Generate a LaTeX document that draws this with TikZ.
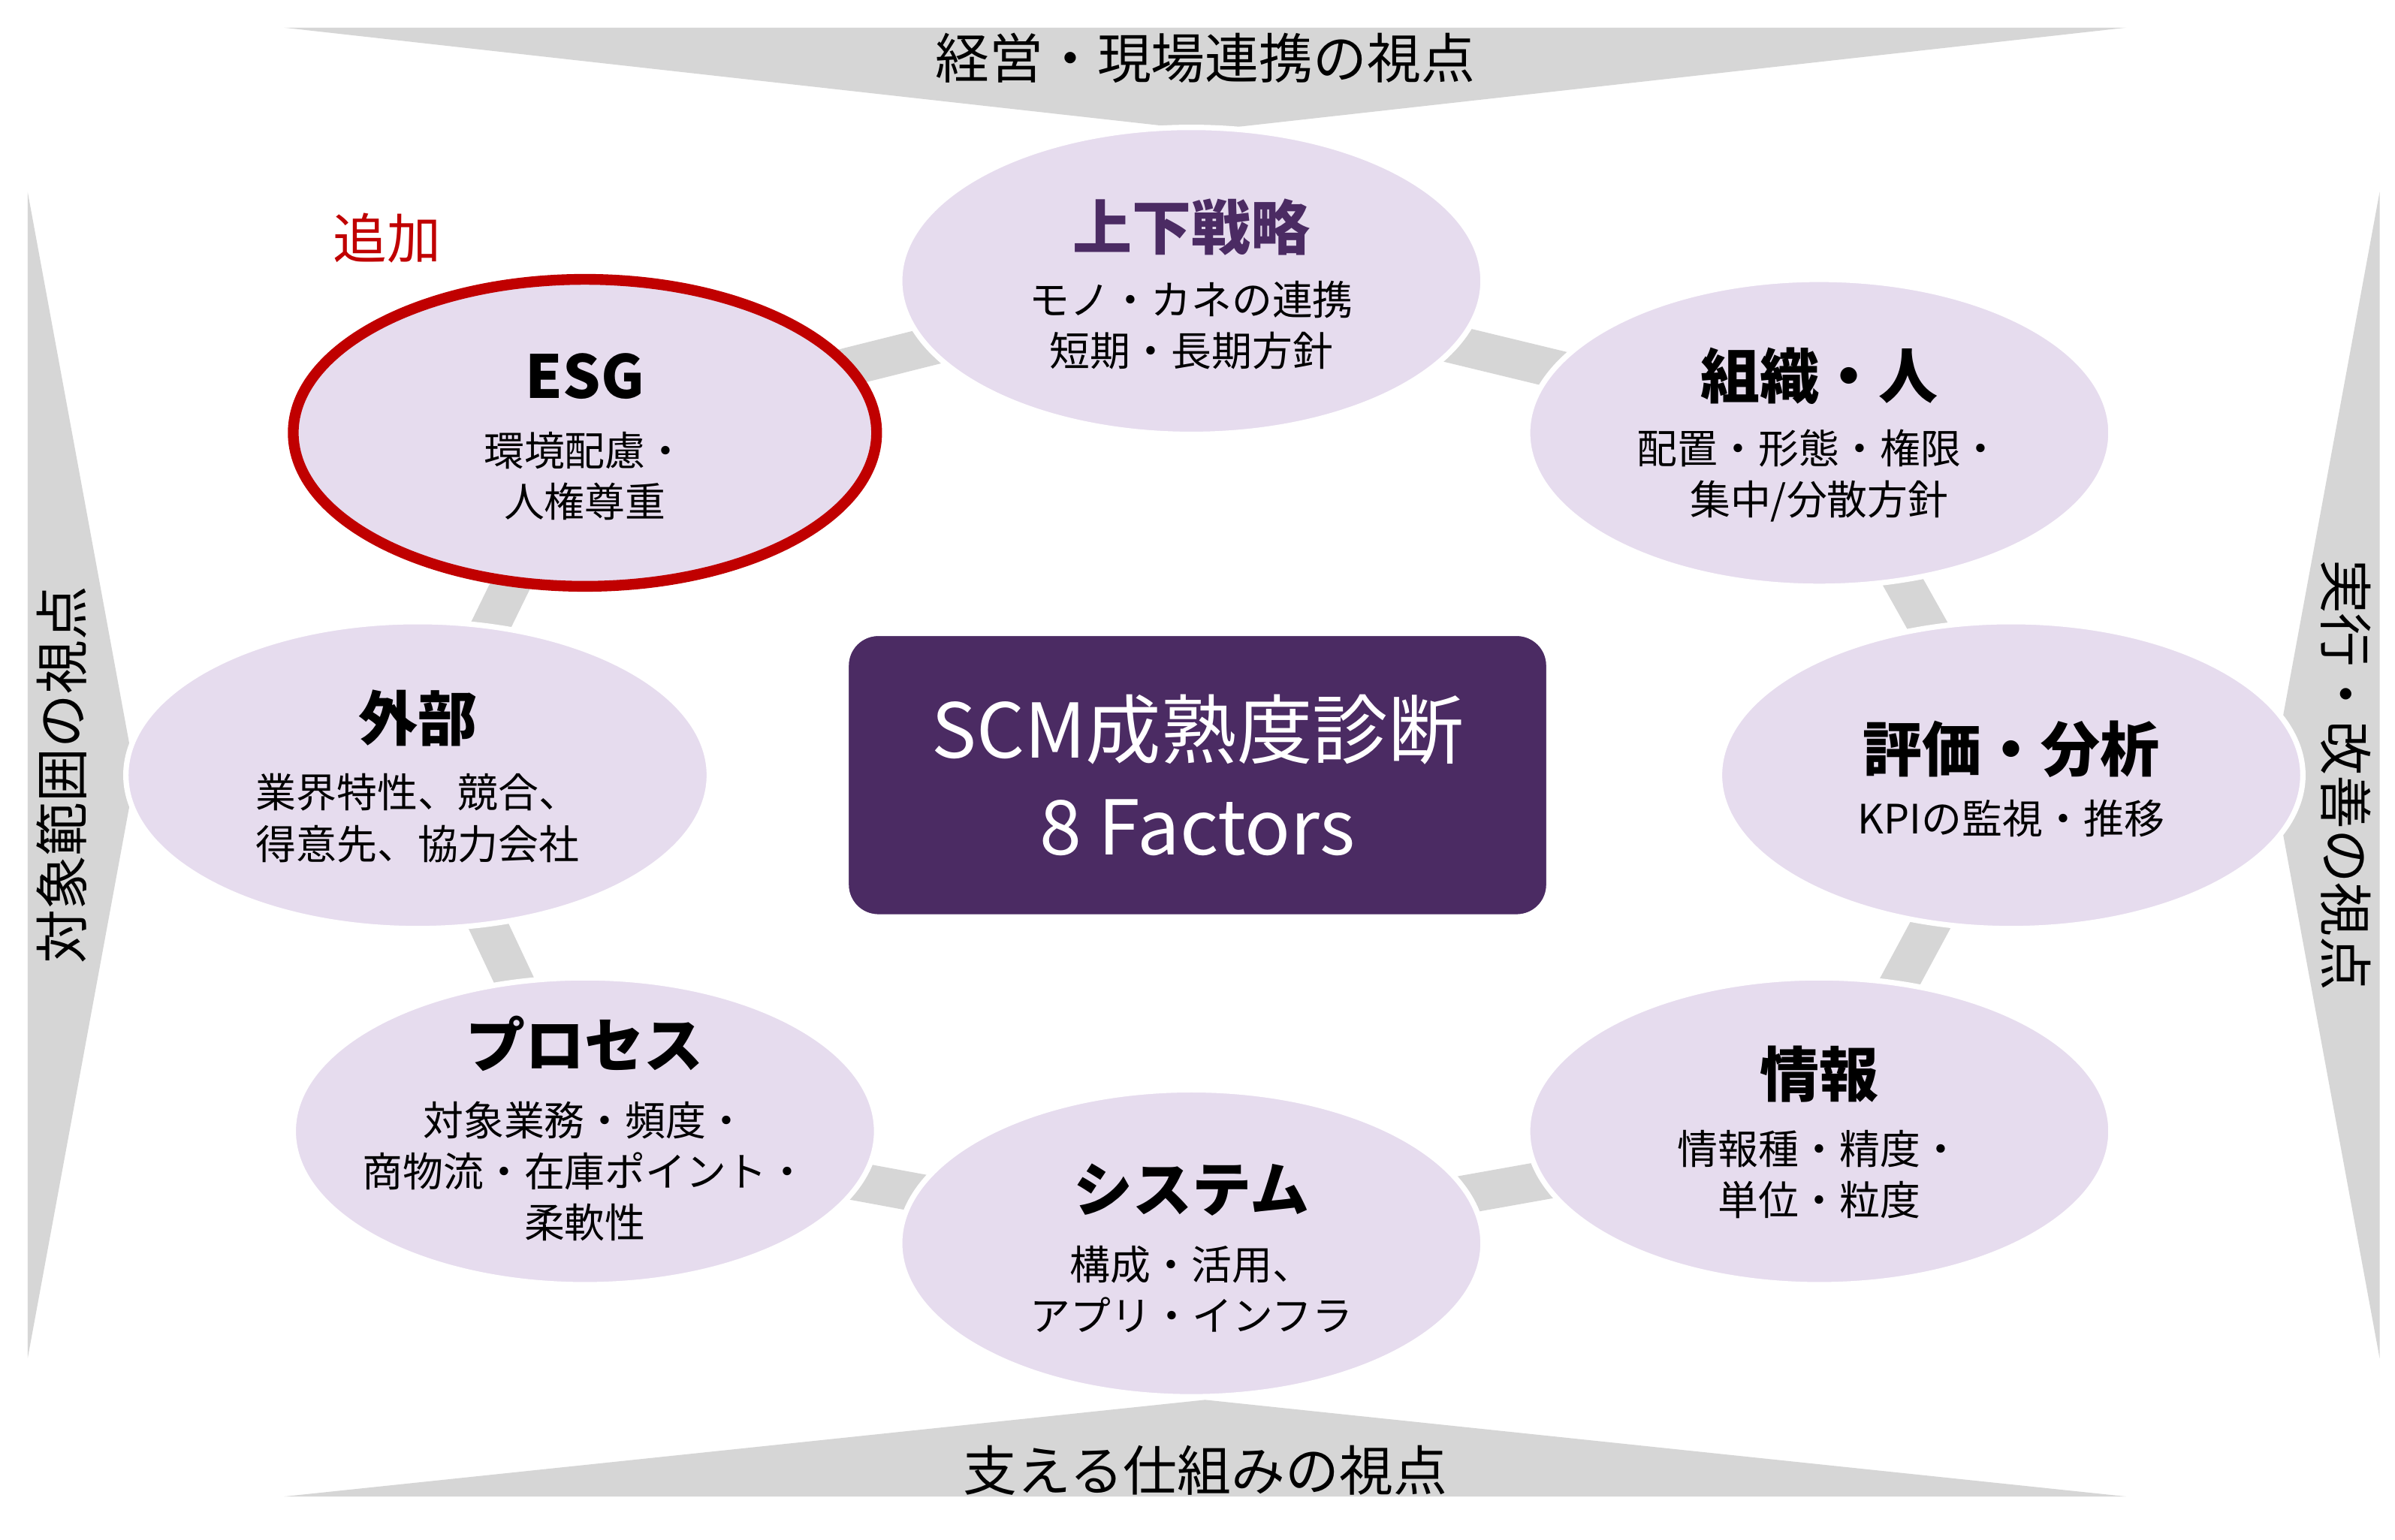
\documentclass[tikz,border=0pt]{standalone}
\usepackage{fontspec}
\setmainfont{Noto Sans CJK JP}
\usetikzlibrary{shapes.geometric}
\begin{document}
\begin{tikzpicture}[x=0.02cm,y=-0.02cm,
 band/.style={fill=black!16,draw=none},
 bandtext/.style={font=\fontsize{20}{24}\selectfont},
 factor/.style={ellipse,fill=lavender,draw=white,line width=2pt,minimum width=380*0.02cm,minimum height=200*0.02cm,align=center,inner sep=0pt},
 ttl/.style={font=\fontsize{22}{26}\selectfont\bfseries},
 sub/.style={font=\fontsize{15}{19}\selectfont}]
\definecolor{lavender}{HTML}{E6DCEE}
\definecolor{centerpurple}{HTML}{4B2B63}
\definecolor{esgred}{HTML}{C00000}
\useasboundingbox (0,0) rectangle (1560,1003);
\fill[white] (0,0) rectangle (1560,1003);
% bands
\fill[band] (185,18) -- (1385,18) -- (785,85) -- cycle;
\fill[band] (185,975) -- (1385,975) -- (785,912) -- cycle;
\fill[band] (18,125) -- (18,885) -- (88,505) -- cycle;
\fill[band] (1550,125) -- (1550,885) -- (1480,505) -- cycle;
\node[bandtext] (tt) at (785,38) {経営・現場連携の視点};
\node[bandtext] (bt) at (785,958) {支える仕組みの視点};
\node[bandtext,rotate=90] (lt) at (40,505) {対象範囲の視点};
\node[bandtext,rotate=-90] (rt) at (1528,505) {実行・改善の視点};
% ring
\coordinate (c1) at (776,183);
\coordinate (c2) at (1185,282);
\coordinate (c3) at (1310,505);
\coordinate (c4) at (1185,737);
\coordinate (c5) at (776,810);
\coordinate (c6) at (381,737);
\coordinate (c7) at (272,505);
\coordinate (c8) at (381,282);
\draw[black!16,line width=0.5cm] (c1)--(c2)--(c3)--(c4)--(c5)--(c6)--(c7)--(c8)--cycle;
% ellipses
\node[factor] (s) at (c1) {};
\node[factor] (o) at (c2) {};
\node[factor] (e) at (c3) {};
\node[factor] (i) at (c4) {};
\node[factor] (y) at (c5) {};
\node[factor] (p) at (c6) {};
\node[factor] (g) at (c7) {};
\node[factor,draw=esgred,line width=4pt] (esg) at (c8) {};
\node[ttl,text=centerpurple] at (776,148) {上下戦略};
\node[sub,align=center] at (776,212) {モノ・カネの連携\\短期・長期方針};
\node[ttl] at (1185,245) {組織・人};
\node[sub,align=center] at (1185,310) {配置・形態・権限・\\集中/分散方針};
\node[ttl] at (1310,488) {評価・分析};
\node[sub] at (1310,533) {KPIの監視・推移};
\node[ttl] at (1185,700) {情報};
\node[sub,align=center] at (1185,765) {情報種・精度・\\単位・粒度};
\node[ttl] at (776,775) {システム};
\node[sub,align=center] at (776,840) {構成・活用、\\アプリ・インフラ};
\node[ttl] at (381,680) {プロセス};
\node[sub,align=center] at (381,763) {対象業務・頻度・\\商物流・在庫ポイント・\\柔軟性};
\node[ttl] at (272,468) {外部};
\node[sub,align=center] at (272,533) {業界特性、競合、\\得意先、協力会社};
\node[ttl] at (381,245) {ESG};
\node[sub,align=center] at (381,310) {環境配慮・\\人権尊重};
\node[text=esgred,font=\fontsize{20}{24}\selectfont] (add) at (252,155) {追加};
% center
\node[fill=centerpurple,rounded corners=0.4cm,draw=white,line width=1pt,minimum width=456*0.02cm,minimum height=183*0.02cm,text=white,align=center,font=\fontsize{28}{36}\selectfont] (ctr) at (780,505) {SCM成熟度診断\\8 Factors};
\end{tikzpicture}
\end{document}
